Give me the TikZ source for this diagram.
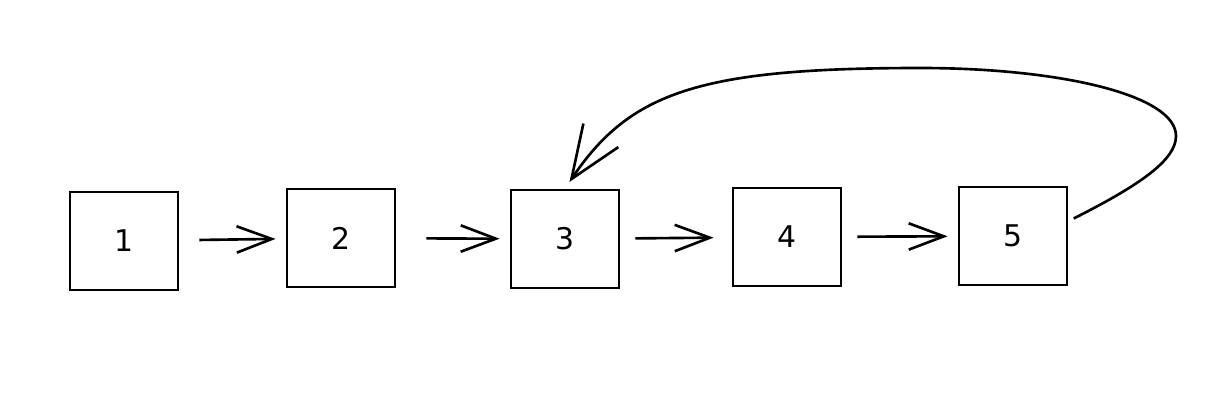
\documentclass[tikz,border=0pt]{standalone}
\usepackage{fontspec}
\setmainfont{DejaVu Sans}
\usetikzlibrary{arrows.meta,positioning}

\begin{document}
\begin{tikzpicture}[
  x=0.02cm, y=-0.02cm,
  listbox/.style={
    rectangle,
    minimum width=2.16cm, minimum height=1.96cm,
    draw=black, line width=1.6pt,
    font=\fontsize{17}{20}\selectfont,
    inner sep=0pt
  },
  conn/.style={-{Straight Barb[length=20pt,width=15pt]}, line width=1.5pt, draw=black,
    shorten <=0.4cm, shorten >=0.2cm}
]
\useasboundingbox (0,0) rectangle (1212,416);

\node[listbox] (n1) at (124,241)  {1};
\node[listbox] (n2) at (341,238)  {2};
\node[listbox] (n3) at (565,239)  {3};
\node[listbox] (n4) at (787,237)  {4};
\node[listbox] (n5) at (1013,236) {5};

\draw[conn] (n1) -- (n2);
\draw[conn, shorten <=0.6cm] (n2) -- (n3);
\draw[conn, shorten <=0.3cm, shorten >=0.36cm] (n3) -- (n4);
\draw[conn, shorten <=0.3cm] (n4) -- (n5);

% back link from the last box
\draw[conn, -{Straight Barb[length=30pt,width=24pt]}, shorten <=0.12cm, shorten >=0.16cm] (n5.15)
  .. controls (1140,185) and (1176,160) .. (1176,136)
  .. controls (1176,95) and (1060,68) .. (920,68)
  .. controls (700,68) and (630,92) .. (n3.north);
\end{tikzpicture}
\end{document}
